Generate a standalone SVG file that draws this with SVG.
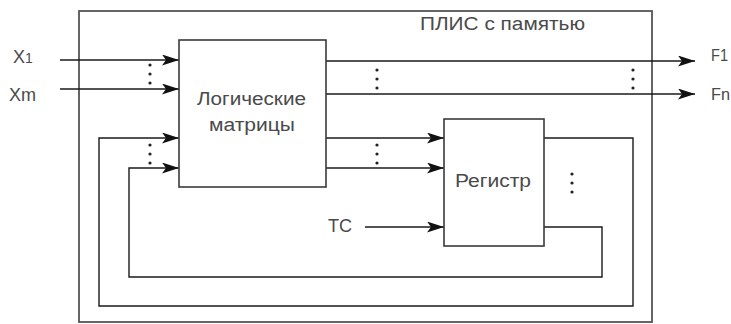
<svg xmlns="http://www.w3.org/2000/svg" width="731" height="324" viewBox="0 0 731 324">
<style>
.box{fill:#fff;stroke:#3a3a3a;stroke-width:1.6}
.frame{fill:none;stroke:#555;stroke-width:1.8}
.ln{fill:none;stroke:#1a1a1a;stroke-width:1.4}
.t{font-family:"Liberation Sans",Arial,sans-serif;fill:#4a4a4a;font-size:18px}
.s{font-size:16px}
.dot{fill:#222}
</style>
<defs>
<marker id="ah" markerUnits="userSpaceOnUse" markerWidth="17" markerHeight="11" refX="17" refY="5.5" orient="auto">
<path d="M0,0 L17,5.5 L0,11 L4,5.5 Z" fill="#111"/>
</marker>
</defs>
<g id="plis">
<rect class="frame" x="79" y="11" width="573" height="311"/>
<text class="t" x="420" y="30" textLength="165" lengthAdjust="spacingAndGlyphs">ПЛИС с памятью</text>
</g>
<g id="connectors">
<path class="ln" d="M60,60 H179" marker-end="url(#ah)"/>
<path class="ln" d="M60,89 H179" marker-end="url(#ah)"/>
<path class="ln" d="M326,61 H695" marker-end="url(#ah)"/>
<path class="ln" d="M326,94 H695" marker-end="url(#ah)"/>
<path class="ln" d="M326,138 H444" marker-end="url(#ah)"/>
<path class="ln" d="M326,168 H444" marker-end="url(#ah)"/>
<path class="ln" d="M365,227 H444" marker-end="url(#ah)"/>
<path class="ln" d="M544,138 H633 V306 H99 V138 H179" marker-end="url(#ah)"/>
<path class="ln" d="M544,227 H602 V277 H129 V168 H179" marker-end="url(#ah)"/>
<g class="dot">
<circle cx="150" cy="65" r="1.6"/><circle cx="150" cy="74" r="1.6"/><circle cx="150" cy="83" r="1.6"/>
<circle cx="150" cy="145" r="1.6"/><circle cx="150" cy="154" r="1.6"/><circle cx="150" cy="163" r="1.6"/>
<circle cx="377" cy="70" r="1.6"/><circle cx="377" cy="79" r="1.6"/><circle cx="377" cy="88" r="1.6"/>
<circle cx="377" cy="145" r="1.6"/><circle cx="377" cy="154" r="1.6"/><circle cx="377" cy="163" r="1.6"/>
<circle cx="633" cy="70" r="1.6"/><circle cx="633" cy="79" r="1.6"/><circle cx="633" cy="88" r="1.6"/>
<circle cx="572" cy="174" r="1.6"/><circle cx="572" cy="183" r="1.6"/><circle cx="572" cy="192" r="1.6"/>
</g>
</g>
<g id="logic">
<rect class="box" x="179" y="40" width="147" height="147"/>
<text class="t" x="197" y="105" textLength="109" lengthAdjust="spacingAndGlyphs">Логические</text>
<text class="t" x="209" y="131" textLength="86" lengthAdjust="spacingAndGlyphs">матрицы</text>
</g>
<g id="register">
<rect class="box" x="444" y="119" width="100" height="127"/>
<text class="t" x="455" y="187" textLength="76" lengthAdjust="spacingAndGlyphs">Регистр</text>
</g>
<g id="labels">
<text class="t" x="13" y="63">X<tspan style="font-size:14px">1</tspan></text>
<text class="t" x="9" y="101">Xm</text>
<text class="t s" x="711" y="61" textLength="17" lengthAdjust="spacingAndGlyphs">F1</text>
<text class="t s" x="711" y="100" textLength="19" lengthAdjust="spacingAndGlyphs">Fn</text>
<text class="t" x="328" y="232">TC</text>
</g>
</svg>
